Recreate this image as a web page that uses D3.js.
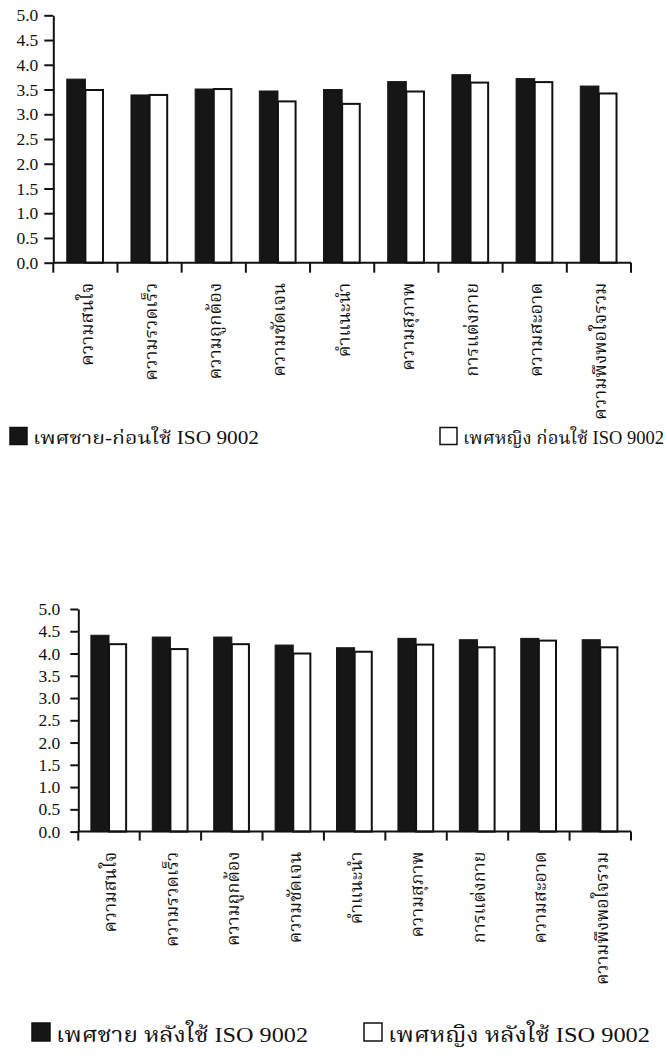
<!DOCTYPE html>
<html>
<head>
<meta charset="utf-8">
<script src="https://cdn.jsdelivr.net/npm/d3@7"></script>
<style>
  html, body { margin: 0; padding: 0; background: #fff; }
  svg { display: block; }
  text { font-family: "Liberation Serif", "Noto Serif Thai", "Noto Sans Thai", serif; fill: #111; }
</style>
</head>
<body>
<svg id="page" width="667" height="1059"></svg>
<script>
// Satisfaction items (x categories)
const categories = ["ความสนใจ", "ความรวดเร็ว", "ความถูกต้อง", "ความชัดเจน", "คำแนะนำ",
                    "ความสุภาพ", "การแต่งกาย", "ความสะอาด", "ความพึงพอใจรวม"];

// Mean scores before ISO 9002
const maleBefore   = [3.71, 3.39, 3.51, 3.47, 3.50, 3.66, 3.80, 3.72, 3.57];
const femaleBefore = [3.49, 3.39, 3.51, 3.26, 3.21, 3.46, 3.64, 3.65, 3.42];

// Mean scores after ISO 9002
const maleAfter    = [4.41, 4.37, 4.37, 4.19, 4.13, 4.34, 4.31, 4.34, 4.31];
const femaleAfter  = [4.21, 4.10, 4.21, 4.00, 4.04, 4.20, 4.14, 4.29, 4.14];

// Value axis ticks
const yTicks = [0, 0.5, 1, 1.5, 2, 2.5, 3, 3.5, 4, 4.5, 5];

// Legend labels
const legendBefore = ["เพศชาย-ก่อนใช้ ISO 9002", "เพศหญิง ก่อนใช้ ISO 9002"];
const legendAfter  = ["เพศชาย หลังใช้ ISO 9002", "เพศหญิง หลังใช้ ISO 9002"];

const svg = d3.select("#page");
const BLACK = "#161616";

function drawChart(cfg) {
  const g = svg.append("g");

  const y = d3.scaleLinear().domain([0, 5]).range([cfg.y0, cfg.y5]);
  const x = d3.scaleBand().domain(categories)
      .range([cfg.xl, cfg.xr]).paddingInner(cfg.pad).paddingOuter(cfg.pad / 2);
  const xs = d3.scaleBand().domain(["m", "f"]).range([0, x.bandwidth()]);

  // value axis
  const yAxis = g.append("g").attr("transform", `translate(${cfg.xl},0)`)
    .call(d3.axisLeft(y).tickValues(yTicks).tickFormat(d3.format(".1f"))
          .tickSize(cfg.tick).tickSizeOuter(0).tickPadding(cfg.tickPad));
  yAxis.select(".domain").attr("stroke", "#111").attr("stroke-width", 2);
  yAxis.selectAll(".tick line").attr("stroke", "#111").attr("stroke-width", 2);
  yAxis.selectAll(".tick text").attr("font-size", cfg.tickFont).attr("fill", "#111")
       .attr("font-family", "Liberation Serif, serif");

  // bars
  const rows = categories.map((c, i) => ({ c, m: cfg.male[i], f: cfg.female[i] }));
  const grp = g.selectAll(".grp").data(rows).join("g")
    .attr("transform", d => `translate(${x(d.c)},0)`);
  grp.append("rect")
    .attr("x", xs("m")).attr("width", xs.bandwidth())
    .attr("y", d => y(d.m)).attr("height", d => y(0) - y(d.m))
    .attr("fill", BLACK).attr("stroke", BLACK).attr("stroke-width", 1);
  grp.append("rect")
    .attr("x", xs("f")).attr("width", xs.bandwidth() - 1)
    .attr("y", d => y(d.f)).attr("height", d => y(0) - y(d.f))
    .attr("fill", "#fff").attr("stroke", "#111").attr("stroke-width", 2);

  // category axis: boundary ticks between groups
  const step = x.step();
  const bounds = d3.range(categories.length + 1).map(i => cfg.xl + i * step);
  const xAxis = g.append("g").attr("transform", `translate(0,${cfg.y0})`);
  xAxis.append("line").attr("x1", cfg.xl).attr("x2", cfg.xr)
    .attr("stroke", "#111").attr("stroke-width", 2);
  xAxis.selectAll(".bt").data(bounds).join("line")
    .attr("x1", d => d).attr("x2", d => d).attr("y1", 0).attr("y2", cfg.tick + 1)
    .attr("stroke", "#111").attr("stroke-width", 2);

  // rotated category labels, read bottom-to-top, end aligned under the axis
  xAxis.selectAll(".lbl").data(categories).join("text")
    .attr("transform", d => `translate(${x(d) + x.bandwidth() / 2 + 1},${cfg.labelGap}) rotate(-90)`)
    .attr("text-anchor", "end").attr("dy", "0.35em")
    .attr("font-size", cfg.labelFont)
    .text(d => d);

  // legend
  const lg = g.append("g").attr("transform", `translate(0,${cfg.legendY})`);
  cfg.legend.forEach((t, i) => {
    const lx = cfg.legendX[i];
    lg.append("rect").attr("x", lx).attr("y", -cfg.sq / 2 - 2).attr("width", cfg.sq).attr("height", cfg.sq)
      .attr("fill", i === 0 ? BLACK : "#fff").attr("stroke", "#111").attr("stroke-width", 1.5);
    const txt = lg.append("text").attr("x", lx + cfg.sq + 6).attr("y", 0).attr("dy", "0.35em")
      .attr("font-size", cfg.legendFont).text(t);
    if (cfg.legendLen[i]) {
      txt.attr("textLength", cfg.legendLen[i]).attr("lengthAdjust", "spacingAndGlyphs");
    }
  });
}

drawChart({
  male: maleBefore, female: femaleBefore, legend: legendBefore,
  xl: 53.3, xr: 631, y0: 262.7, y5: 15.3, pad: 0.42,
  tick: 9, tickPad: 6, tickFont: 17.5, labelGap: 20, labelFont: 18.5,
  legendY: 438, legendX: [10, 440], legendLen: [226, 0], legendFont: 18.5, sq: 17
});

drawChart({
  male: maleAfter, female: femaleAfter, legend: legendAfter,
  xl: 78.3, xr: 631, y0: 831.6, y5: 609, pad: 0.41,
  tick: 8, tickPad: 10, tickFont: 17.5, labelGap: 20, labelFont: 18,
  legendY: 1034, legendX: [32, 364], legendLen: [252, 262], legendFont: 22, sq: 18
});
</script>
</body>
</html>
